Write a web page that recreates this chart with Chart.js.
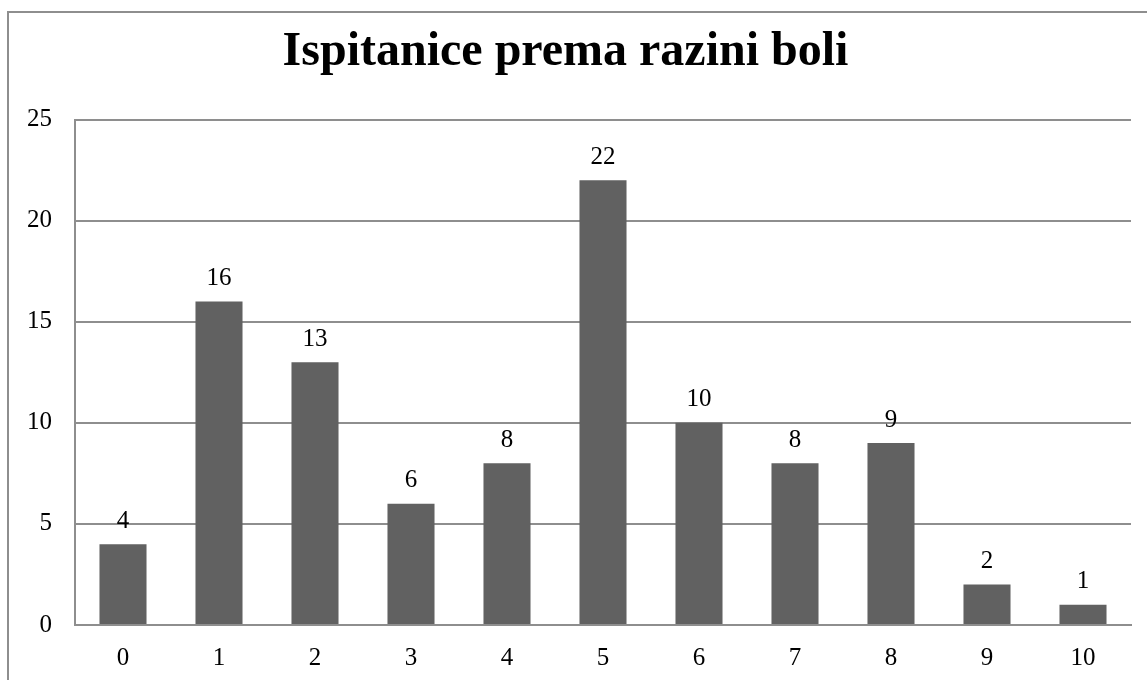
<!DOCTYPE html>
<html>
<head>
<meta charset="utf-8">
<script src="https://cdn.jsdelivr.net/npm/chart.js@4/dist/chart.umd.min.js"></script>
<style>
  html, body { margin: 0; padding: 0; background: #fff; overflow: hidden; }
  #frame { position: absolute; left: 7px; top: 11px; width: 1160px; height: 700px; border: 2px solid #8e8e8e; }
  #wrap { position: absolute; left: 0; top: 0; width: 1147px; height: 680px; }
</style>
</head>
<body>
<div id="frame"></div>
<div id="wrap"><canvas id="chart" width="1147" height="680"></canvas></div>
<script>
const painLevels = ["0", "1", "2", "3", "4", "5", "6", "7", "8", "9", "10"];
const respondents = [4, 16, 13, 6, 8, 22, 10, 8, 9, 2, 1];
const yTicks = [0, 5, 10, 15, 20, 25];

const serif = "'Liberation Serif', 'Times New Roman', serif";

const valueLabels = {
    id: "valueLabels",
    afterDatasetsDraw(chart) {
        const ctx = chart.ctx;
        const meta = chart.getDatasetMeta(0);
        ctx.save();
        ctx.font = "25px " + serif;
        ctx.fillStyle = "#000";
        ctx.textAlign = "center";
        ctx.textBaseline = "middle";
        meta.data.forEach((bar, i) => {
            ctx.fillText(String(respondents[i]), bar.x, bar.y - 23);
        });
        ctx.restore();
    }
};

new Chart(document.getElementById("chart").getContext("2d"), {
    type: "bar",
    data: {
        labels: painLevels,
        datasets: [{
            data: respondents,
            backgroundColor: "#616161",
            categoryPercentage: 1,
            barPercentage: 0.49
        }]
    },
    options: {
        responsive: false,
        animation: false,
        layout: { padding: { left: 0, right: 16, top: 0, bottom: 0 } },
        plugins: {
            legend: { display: false },
            tooltip: { enabled: false },
            title: {
                display: true,
                text: "Ispitanice prema razini boli",
                color: "#000",
                font: { family: serif, size: 48, weight: "bold" },
                padding: { top: 24, bottom: 38 }
            }
        },
        scales: {
            x: {
                grid: { display: false, drawTicks: false },
                border: { display: true, color: "#8e8e8e", width: 2 },
                ticks: { color: "#000", font: { family: serif, size: 25 }, padding: 18 },
                afterFit: (scale) => { scale.height = 55; }
            },
            y: {
                min: 0,
                max: 25,
                afterBuildTicks: (scale) => { scale.ticks = yTicks.map(v => ({ value: v })); },
                grid: { color: "#8e8e8e", lineWidth: 2, drawTicks: false },
                border: { display: true, color: "#8e8e8e", width: 2 },
                ticks: { color: "#000", font: { family: serif, size: 25 }, padding: 23 },
                afterFit: (scale) => { scale.width = 75; }
            }
        }
    },
    plugins: [valueLabels]
});
</script>
</body>
</html>
